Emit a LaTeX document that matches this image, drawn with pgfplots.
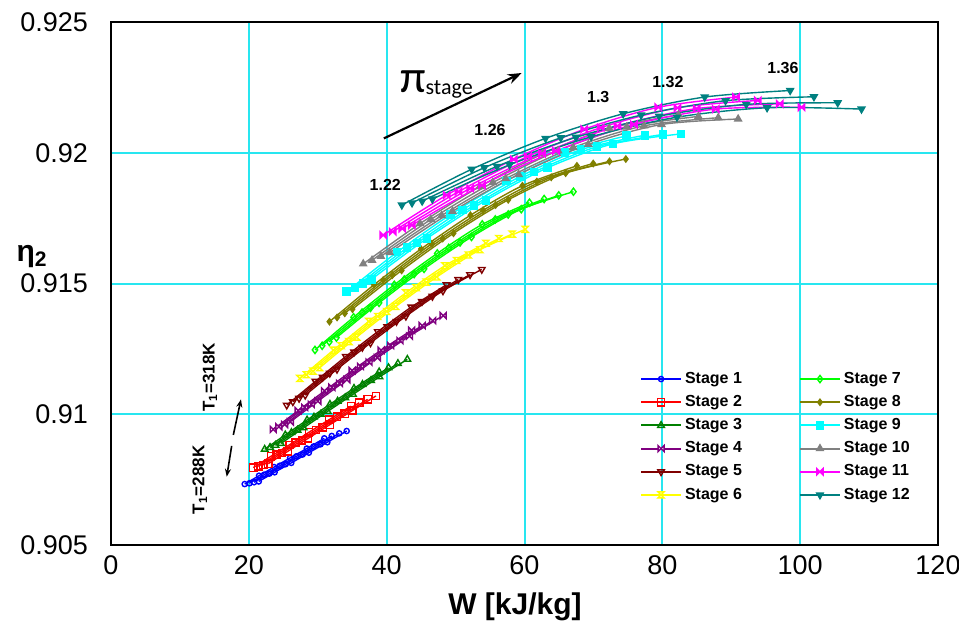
\documentclass[border=0pt]{standalone}
\usepackage{pgfplots}
\pgfplotsset{compat=1.18}
\usetikzlibrary{arrows.meta}
\usepackage{fontspec}
\setmainfont{Liberation Sans}
\newfontfamily\carlito{Carlito}

\definecolor{c1}{RGB}{0,0,255}
\definecolor{c2}{RGB}{255,0,0}
\definecolor{c3}{RGB}{0,128,0}
\definecolor{c4}{RGB}{128,0,128}
\definecolor{c5}{RGB}{128,0,0}
\definecolor{c6}{RGB}{255,255,0}
\definecolor{c7}{RGB}{0,255,0}
\definecolor{c8}{RGB}{128,128,0}
\definecolor{c9}{RGB}{0,255,255}
\definecolor{c10}{RGB}{128,128,128}
\definecolor{c11}{RGB}{255,0,255}
\definecolor{c12}{RGB}{0,128,128}
\definecolor{gridcyan}{RGB}{40,230,240}

\pgfdeclareplotmark{bowtie}{%
 \pgfpathmoveto{\pgfqpoint{-\pgfplotmarksize}{\pgfplotmarksize}}%
 \pgfpathlineto{\pgfqpoint{-\pgfplotmarksize}{-\pgfplotmarksize}}%
 \pgfpathlineto{\pgfqpoint{\pgfplotmarksize}{\pgfplotmarksize}}%
 \pgfpathlineto{\pgfqpoint{\pgfplotmarksize}{-\pgfplotmarksize}}%
 \pgfpathclose
 \pgfusepathqfillstroke}
\pgfdeclareplotmark{hourglass}{%
 \pgfpathmoveto{\pgfqpoint{-\pgfplotmarksize}{\pgfplotmarksize}}%
 \pgfpathlineto{\pgfqpoint{\pgfplotmarksize}{\pgfplotmarksize}}%
 \pgfpathlineto{\pgfqpoint{-\pgfplotmarksize}{-\pgfplotmarksize}}%
 \pgfpathlineto{\pgfqpoint{\pgfplotmarksize}{-\pgfplotmarksize}}%
 \pgfpathclose
 \pgfusepathqfillstroke}

\pgfplotsset{
 s1/.style={color=c1, mark=o, mark size=1.3pt, mark options={solid}},
 s2/.style={color=c2, mark=square, mark size=1.8pt, mark options={solid}},
 s3/.style={color=c3, mark=triangle, mark size=1.9pt, mark options={solid}},
 s4/.style={color=c4, mark=bowtie, mark size=1.5pt, mark options={solid,fill=white}},
 s5/.style={color=c5, mark=triangle, mark size=1.9pt, mark options={solid,rotate=180}},
 s6/.style={color=c6, mark=hourglass, mark size=1.5pt, mark options={solid,fill=white}},
 s7/.style={color=c7, mark=diamond, mark size=1.8pt, mark options={solid}},
 s8/.style={color=c8, mark=diamond*, mark size=1.5pt, mark options={solid}},
 s9/.style={color=c9, mark=square*, mark size=1.8pt, mark options={solid}},
 s10/.style={color=c10, mark=triangle*, mark size=1.9pt, mark options={solid}},
 s11/.style={color=c11, mark=bowtie, mark size=1.6pt, mark options={solid,fill=c11}},
 s12/.style={color=c12, mark=triangle*, mark size=1.9pt, mark options={solid,rotate=180}},
}

\begin{document}
\begin{tikzpicture}
\begin{axis}[
 scale only axis, width=413.5pt, height=261.5pt,
 xmin=0, xmax=120, ymin=0.905, ymax=0.925,
 xtick={0,20,40,60,80,100,120}, xticklabels={0,20,40,60,80,100,120},
 ytick={0.905,0.91,0.915,0.92,0.925}, yticklabels={0.905,0.91,0.915,0.92,0.925},
 grid=major, grid style={line width=1pt, color=gridcyan},
 axis line style={line width=0.6pt},
 major tick length=0pt,
 tick label style={font=\fontsize{13.5}{15}\selectfont},
 yticklabel style={xshift=-8pt},
 xticklabel style={yshift=-2pt},
 xlabel={W [kJ/kg]}, ylabel={η\textsubscript{2}},
 label style={font=\bfseries\fontsize{15}{18}\selectfont},
 xlabel style={at={(axis description cs:0.4885,-0.1185)}, anchor=center},
 ylabel style={rotate=-90, at={(axis description cs:-0.0955,0.552)}, anchor=center},
 every axis plot/.append style={line width=0.7pt, smooth, tension=0.5},
 legend columns=6, transpose legend,
 legend style={at={(0.632,0.345)}, anchor=north west, draw=none, fill=none,
   font=\bfseries\fontsize{8}{9}\selectfont, row sep=1.5pt,
   nodes={inner sep=1.5pt},
   /tikz/every even column/.append style={column sep=27pt}},
 legend cell align=left,
 legend image code/.code={\draw[line width=1pt, mark=none] (0pt,0pt) -- (20pt,0pt);
   \draw[only marks] plot coordinates {(10pt,0pt)};},
]
% Stage 1
\addplot[s1] coordinates {(19.40,0.90733) (21.48,0.90765) (23.67,0.90798) (25.98,0.90833) (28.41,0.90869) (30.95,0.90908)};
\addlegendentry{Stage 1}
\addplot[s1,forget plot] coordinates {(20.08,0.90736) (22.23,0.90769) (24.50,0.90803) (26.89,0.90839) (29.40,0.90877) (32.03,0.90917)};
\addplot[s1,forget plot] coordinates {(20.76,0.90740) (22.98,0.90773) (25.33,0.90809) (27.80,0.90846) (30.40,0.90885) (33.12,0.90927)};
\addplot[s1,forget plot] coordinates {(21.44,0.90743) (23.74,0.90778) (26.16,0.90814) (28.71,0.90853) (31.39,0.90893) (34.20,0.90936)};
% Stage 2
\addplot[s2] coordinates {(20.65,0.90796) (23.20,0.90839) (25.89,0.90883) (28.72,0.90931) (31.69,0.90980) (34.80,0.91031)};
\addlegendentry{Stage 2}
\addplot[s2,forget plot] coordinates {(21.37,0.90801) (24.01,0.90845) (26.80,0.90892) (29.73,0.90940) (32.80,0.90991) (36.02,0.91044)};
\addplot[s2,forget plot] coordinates {(22.10,0.90806) (24.82,0.90852) (27.70,0.90900) (30.73,0.90950) (33.91,0.91002) (37.24,0.91057)};
\addplot[s2,forget plot] coordinates {(22.82,0.90811) (25.64,0.90858) (28.61,0.90908) (31.74,0.90960) (35.02,0.91014) (38.45,0.91070)};
% Stage 3
\addplot[s3] coordinates {(22.30,0.90866) (25.29,0.90921) (28.45,0.90978) (31.77,0.91038) (35.26,0.91099) (38.91,0.91162)};
\addlegendentry{Stage 3}
\addplot[s3,forget plot] coordinates {(23.08,0.90873) (26.18,0.90930) (29.45,0.90989) (32.88,0.91050) (36.49,0.91114) (40.27,0.91178)};
\addplot[s3,forget plot] coordinates {(23.86,0.90881) (27.06,0.90939) (30.44,0.91000) (33.99,0.91063) (37.73,0.91129) (41.63,0.91194)};
\addplot[s3,forget plot] coordinates {(24.64,0.90888) (27.95,0.90948) (31.44,0.91011) (35.11,0.91076) (38.96,0.91143) (43.00,0.91210)};
% Stage 4
\addplot[s4] coordinates {(23.55,0.90942) (27.16,0.91014) (30.98,0.91089) (34.99,0.91167) (39.20,0.91245) (43.62,0.91321)};
\addlegendentry{Stage 4}
\addplot[s4,forget plot] coordinates {(24.37,0.90952) (28.11,0.91026) (32.06,0.91103) (36.21,0.91183) (40.57,0.91263) (45.15,0.91339)};
\addplot[s4,forget plot] coordinates {(25.20,0.90961) (29.06,0.91038) (33.15,0.91118) (37.44,0.91199) (41.94,0.91281) (46.67,0.91358)};
\addplot[s4,forget plot] coordinates {(26.02,0.90971) (30.01,0.91050) (34.23,0.91132) (38.66,0.91216) (43.32,0.91299) (48.20,0.91377)};
% Stage 5
\addplot[s5] coordinates {(25.50,0.91035) (29.67,0.91126) (34.08,0.91221) (38.72,0.91316) (43.59,0.91410) (48.69,0.91495)};
\addlegendentry{Stage 5}
\addplot[s5,forget plot] coordinates {(26.39,0.91048) (30.71,0.91142) (35.27,0.91238) (40.08,0.91335) (45.12,0.91431) (50.39,0.91515)};
\addplot[s5,forget plot] coordinates {(27.29,0.91061) (31.75,0.91157) (36.47,0.91256) (41.43,0.91355) (46.64,0.91451) (52.10,0.91534)};
\addplot[s5,forget plot] coordinates {(28.18,0.91073) (32.79,0.91172) (37.66,0.91273) (42.79,0.91375) (48.17,0.91472) (53.80,0.91554)};
% Stage 6
\addplot[s6] coordinates {(27.40,0.91137) (32.26,0.91245) (37.39,0.91355) (42.78,0.91464) (48.45,0.91568) (54.39,0.91654)};
\addlegendentry{Stage 6}
\addplot[s6,forget plot] coordinates {(28.36,0.91151) (33.39,0.91262) (38.70,0.91374) (44.28,0.91484) (50.15,0.91588) (56.29,0.91672)};
\addplot[s6,forget plot] coordinates {(29.32,0.91165) (34.52,0.91278) (40.01,0.91393) (45.77,0.91505) (51.84,0.91609) (58.20,0.91689)};
\addplot[s6,forget plot] coordinates {(30.28,0.91178) (35.65,0.91295) (41.32,0.91412) (47.27,0.91525) (53.54,0.91629) (60.10,0.91707)};
% Stage 7
\addplot[s7] coordinates {(29.60,0.91246) (35.20,0.91371) (41.11,0.91495) (47.34,0.91615) (53.87,0.91726) (60.72,0.91809)};
\addlegendentry{Stage 7}
\addplot[s7,forget plot] coordinates {(30.64,0.91262) (36.43,0.91389) (42.55,0.91515) (49.00,0.91636) (55.76,0.91745) (62.85,0.91823)};
\addplot[s7,forget plot] coordinates {(31.67,0.91277) (37.66,0.91407) (43.99,0.91536) (50.65,0.91657) (57.64,0.91764) (64.97,0.91837)};
\addplot[s7,forget plot] coordinates {(32.71,0.91293) (38.90,0.91426) (45.43,0.91556) (52.31,0.91678) (59.53,0.91784) (67.10,0.91851)};
% Stage 8
\addplot[s8] coordinates {(31.70,0.91354) (38.16,0.91495) (44.98,0.91632) (52.16,0.91761) (59.70,0.91874) (67.60,0.91950)};
\addlegendentry{Stage 8}
\addplot[s8,forget plot] coordinates {(32.81,0.91370) (39.50,0.91513) (46.55,0.91652) (53.99,0.91780) (61.79,0.91890) (69.97,0.91959)};
\addplot[s8,forget plot] coordinates {(33.92,0.91386) (40.83,0.91532) (48.13,0.91672) (55.81,0.91800) (63.88,0.91906) (72.33,0.91967)};
\addplot[s8,forget plot] coordinates {(35.03,0.91402) (42.17,0.91550) (49.70,0.91692) (57.64,0.91820) (65.97,0.91922) (74.70,0.91976)};
% Stage 9
\addplot[s9] coordinates {(34.20,0.91469) (41.52,0.91620) (49.24,0.91763) (57.36,0.91892) (65.90,0.92000) (74.84,0.92065)};
\addlegendentry{Stage 9}
\addplot[s9,forget plot] coordinates {(35.40,0.91485) (42.97,0.91637) (50.96,0.91781) (59.37,0.91909) (68.21,0.92012) (77.46,0.92067)};
\addplot[s9,forget plot] coordinates {(36.59,0.91501) (44.43,0.91655) (52.69,0.91799) (61.38,0.91926) (70.51,0.92023) (80.08,0.92070)};
\addplot[s9,forget plot] coordinates {(37.79,0.91516) (45.88,0.91673) (54.41,0.91818) (63.38,0.91943) (72.82,0.92034) (82.70,0.92072)};
% Stage 10
\addplot[s10] coordinates {(36.60,0.91575) (44.84,0.91729) (53.53,0.91871) (62.68,0.91996) (72.29,0.92093) (82.35,0.92145)};
\addlegendentry{Stage 10}
\addplot[s10,forget plot] coordinates {(37.88,0.91589) (46.41,0.91745) (55.40,0.91886) (64.87,0.92008) (74.82,0.92098) (85.23,0.92139)};
\addplot[s10,forget plot] coordinates {(39.16,0.91604) (47.98,0.91760) (57.28,0.91901) (67.07,0.92020) (77.35,0.92103) (88.11,0.92134)};
\addplot[s10,forget plot] coordinates {(40.44,0.91618) (49.55,0.91776) (59.15,0.91917) (69.26,0.92032) (79.88,0.92108) (91.00,0.92129)};
% Stage 11
\addplot[s11] coordinates {(39.50,0.91685) (48.71,0.91838) (58.44,0.91975) (68.67,0.92090) (79.42,0.92174) (90.68,0.92213)};
\addlegendentry{Stage 11}
\addplot[s11,forget plot] coordinates {(40.88,0.91698) (50.41,0.91851) (60.49,0.91986) (71.07,0.92096) (82.20,0.92172) (93.85,0.92200)};
\addplot[s11,forget plot] coordinates {(42.27,0.91710) (52.12,0.91864) (62.53,0.91997) (73.48,0.92102) (84.98,0.92169) (97.03,0.92187)};
\addplot[s11,forget plot] coordinates {(43.65,0.91723) (53.82,0.91876) (64.58,0.92007) (75.88,0.92108) (87.76,0.92167) (100.20,0.92174)};
% Stage 12
\addplot[s12] coordinates {(42.20,0.91800) (52.34,0.91937) (63.05,0.92055) (74.32,0.92149) (86.15,0.92213) (98.55,0.92238)};
\addlegendentry{Stage 12}
\addplot[s12,forget plot] coordinates {(43.68,0.91808) (54.17,0.91943) (65.26,0.92057) (76.92,0.92144) (89.17,0.92199) (102.00,0.92214)};
\addplot[s12,forget plot] coordinates {(45.15,0.91815) (56.00,0.91948) (67.46,0.92059) (79.52,0.92140) (92.18,0.92185) (105.45,0.92191)};
\addplot[s12,forget plot] coordinates {(46.63,0.91823) (57.84,0.91954) (69.67,0.92061) (82.12,0.92136) (95.20,0.92172) (108.90,0.92167)};

% annotations
\begin{scope}[font=\bfseries\fontsize{8}{9}\selectfont]
\node at (axis cs:39.8,0.91877) {1.22};
\node at (axis cs:55.0,0.92087) {1.26};
\node at (axis cs:70.7,0.92213) {1.3};
\node at (axis cs:80.8,0.92271) {1.32};
\node at (axis cs:97.5,0.92324) {1.36};
\end{scope}
\draw[-{Stealth[length=7pt,width=5pt]}, line width=1.1pt] (axis cs:39.6,0.92055) -- (axis cs:59.6,0.92305);
\node[anchor=base west, inner sep=0pt] at (axis cs:41.9,0.92232) {\carlito\fontsize{23}{23}\selectfont π\fontsize{11}{11}\selectfont\raisebox{-1pt}{stage}};
\node[rotate=90, font=\bfseries\fontsize{8.5}{10}\selectfont] at (axis cs:14.36,0.91142) {T\textsubscript{1}=318K};
\node[rotate=90, font=\bfseries\fontsize{8.5}{10}\selectfont] at (axis cs:12.9,0.90749) {T\textsubscript{1}=288K};
\draw[-{Stealth[length=4pt,width=3pt]}, line width=0.8pt] (axis cs:17.75,0.90921) -- (axis cs:18.86,0.91057);
\draw[-{Stealth[length=4pt,width=3pt]}, line width=0.8pt] (axis cs:17.51,0.90879) -- (axis cs:16.79,0.90761);
\end{axis}
\pgfresetboundingbox
\path[use as bounding box] ([xshift=-55.5pt,yshift=-41.5pt]current axis.south west) rectangle ([xshift=10.5pt,yshift=11pt]current axis.north east);
\end{tikzpicture}
\end{document}
